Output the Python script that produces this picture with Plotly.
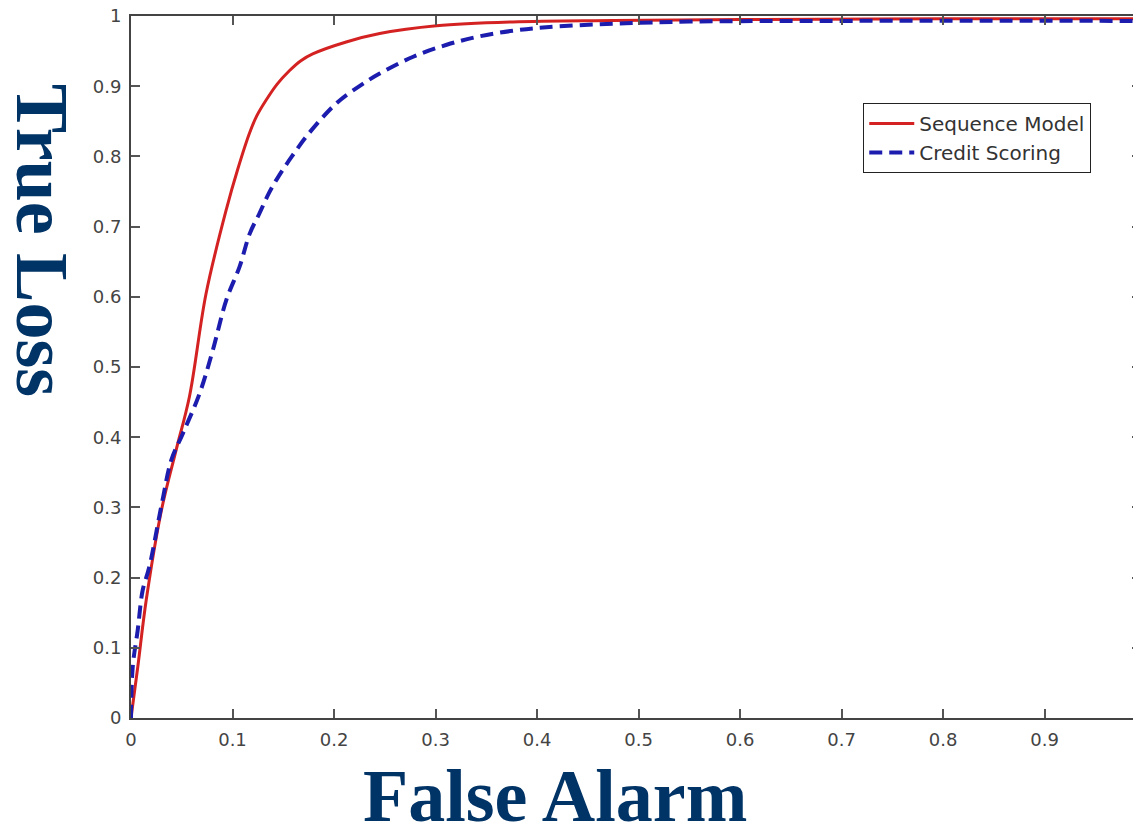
import plotly.graph_objects as go

# Sequence Model (red, solid)
seq_x = [0.0, 0.0067, 0.015, 0.030, 0.0445, 0.0576, 0.074, 0.094, 0.105, 0.1167, 0.124, 0.133,
         0.144, 0.156, 0.167, 0.179, 0.212, 0.245, 0.301, 0.376, 0.475, 0.60, 0.80, 1.0]
seq_y = [0.0, 0.073, 0.168, 0.296, 0.382, 0.458, 0.605, 0.725, 0.781, 0.833, 0.858, 0.880,
         0.903, 0.922, 0.936, 0.946, 0.963, 0.975, 0.986, 0.9915, 0.9935, 0.995, 0.996, 0.996]

# Credit Scoring (blue, dashed)
cs_x = [0.0, 0.0017, 0.0066, 0.0115, 0.018, 0.031, 0.0396, 0.051, 0.0675, 0.0806, 0.0938, 0.107,
        0.117, 0.1266, 0.136, 0.146, 0.159, 0.1726, 0.189, 0.205, 0.228, 0.245, 0.278, 0.311,
        0.343, 0.376, 0.409, 0.475, 0.55, 0.70, 1.0]
cs_y = [0.0, 0.073, 0.125, 0.182, 0.215, 0.310, 0.367, 0.405, 0.462, 0.524, 0.595, 0.643,
        0.690, 0.719, 0.748, 0.773, 0.801, 0.828, 0.856, 0.879, 0.903, 0.918, 0.942, 0.959,
        0.971, 0.979, 0.984, 0.989, 0.992, 0.993, 0.993]

tick_vals = [0, 0.1, 0.2, 0.3, 0.4, 0.5, 0.6, 0.7, 0.8, 0.9, 1]
x_tick_text = ["0", "0.1", "0.2", "0.3", "0.4", "0.5", "0.6", "0.7", "0.8", "0.9", "1"]
y_tick_text = ["0", "0.1", "0.2", "0.3", "0.4", "0.5", "0.6", "0.7", "0.8", "0.9", "1"]

fig = go.Figure()
fig.add_trace(go.Scatter(x=seq_x, y=seq_y, mode="lines", name="Sequence Model",
                         line=dict(color="#d42222", width=3, shape="spline", smoothing=1.0)))
fig.add_trace(go.Scatter(x=cs_x, y=cs_y, mode="lines", name="Credit Scoring",
                         line=dict(color="#1c1cae", width=4, dash="13px,7px", shape="spline", smoothing=1.0)))

axis_common = dict(
    showgrid=False, zeroline=False, showline=True, linecolor="#444444", linewidth=2,
    ticks="inside", ticklen=9, tickwidth=1.5, tickcolor="#555555", mirror="ticks",
    ticklabeloverflow="allow", automargin=False,
    tickfont=dict(family="DejaVu Sans, Verdana, sans-serif", size=18, color="#444444"),
)

fig.update_xaxes(range=[0, 0.995], tickvals=tick_vals, ticktext=x_tick_text,
                 ticklabelstandoff=4, **axis_common)
fig.update_yaxes(range=[0, 1], tickvals=tick_vals, ticktext=y_tick_text,
                 ticklabelstandoff=4, **axis_common)

# page body has an 8px margin; figure sized so the plot lands where the reference has it
fig.update_layout(
    width=1133, height=817,
    margin=dict(l=123, r=0, t=8, b=107, pad=0, autoexpand=False),
    paper_bgcolor="white", plot_bgcolor="white",
    showlegend=True,
    legend=dict(x=0.725, y=0.876, xanchor="left", yanchor="top",
                bgcolor="white", bordercolor="#222222", borderwidth=1,
                itemwidth=45,
                font=dict(family="DejaVu Sans, Verdana, sans-serif", size=20, color="#333333"),
                tracegroupgap=0),
    annotations=[
        dict(text="<b>False Alarm</b>", xref="paper", yref="paper", x=0.42, y=-0.111,
             xanchor="center", yanchor="middle", showarrow=False,
             font=dict(family="Liberation Serif, Times New Roman, serif", size=74, color="#003366")),
        dict(text="<b>True Loss</b>", xref="paper", yref="paper", x=-0.088, y=0.681,
             xanchor="center", yanchor="middle", showarrow=False, textangle=90,
             font=dict(family="Liberation Serif, Times New Roman, serif", size=74, color="#003366")),
    ],
)

fig.write_html("out.html")
